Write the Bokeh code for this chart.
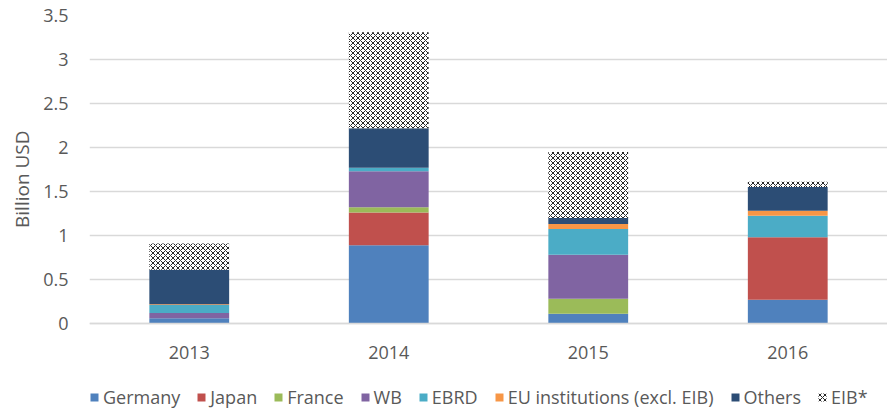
from bokeh.plotting import figure
from bokeh.models import ColumnDataSource, FixedTicker, Legend, LegendItem, FactorRange, Range1d, Title
from bokeh.transform import stack
from bokeh.embed import file_html
from bokeh.resources import INLINE

years = ["2013", "2014", "2015", "2016"]
germany = [0.06, 0.89, 0.11, 0.27]
japan = [0.0, 0.37, 0.0, 0.71]
france = [0.0, 0.06, 0.17, 0.0]
wb = [0.06, 0.41, 0.50, 0.0]
ebrd = [0.09, 0.04, 0.295, 0.245]
eu = [0.01, 0.0, 0.055, 0.055]
others = [0.39, 0.45, 0.07, 0.27]
eib = [0.30, 1.09, 0.75, 0.06]

series_keys = ["germany", "japan", "france", "wb", "ebrd", "eu", "others"]
series_names = ["Germany", "Japan", "France", "WB", "EBRD", "EU institutions (excl. EIB)", "Others", "EIB*"]
colors = ["#4F81BD", "#C0504D", "#9BBB59", "#8064A2", "#4BACC6", "#F79646", "#2C4D75"]

y_ticks = [0, 0.5, 1, 1.5, 2, 2.5, 3, 3.5]
y_tick_labels = ["0", "0.5", "1", "1.5", "2", "2.5", "3", "3.5"]
y_max = 3.5

src = ColumnDataSource(dict(year=years, germany=germany, japan=japan, france=france, wb=wb,
                            ebrd=ebrd, eu=eu, others=others, eib=eib))

FONT = "Open Sans"
TXT = "#595959"
W, H = 887, 409
TOP, LEFT = 15, 84
PX_PER_UNIT = 88.0
# frame runs to the bottom of the figure so the legend can sit inside it
y_min = -(H - TOP - y_max * PX_PER_UNIT) / PX_PER_UNIT

p = figure(x_range=FactorRange(*years), y_range=Range1d(y_min, y_max),
           width=W, height=H, output_backend="svg", toolbar_location=None,
           min_border_left=LEFT, min_border_right=0, min_border_top=TOP, min_border_bottom=0)

renderers = p.vbar_stack(series_keys, x="year", width=0.4, fill_color=colors,
                         line_color=None, source=src)
eib_r = p.vbar(x="year", bottom=stack(*series_keys), top=stack(*series_keys, "eib"),
               width=0.4, source=src, fill_color="white", line_color=None,
               hatch_pattern="diagonal_cross", hatch_color="black", hatch_scale=5,
               hatch_weight=1, hatch_alpha=0.85)

p.outline_line_color = None
p.xgrid.visible = False
p.ygrid.grid_line_color = "#D9D9D9"
p.ygrid.grid_line_width = 1.5

p.yaxis.ticker = FixedTicker(ticks=y_ticks)
p.yaxis.major_label_overrides = {float(t): l for t, l in zip(y_ticks, y_tick_labels)}
p.yaxis.axis_line_color = None
p.yaxis.major_tick_line_color = None
p.yaxis.minor_tick_line_color = None
p.yaxis.major_label_standoff = 15

ylabel = Title(text="Billion  USD", align="right", offset=110, standoff=12,
               text_font=FONT, text_font_size="19px", text_font_style="normal",
               text_color=TXT)
p.add_layout(ylabel, "left")

p.xaxis.fixed_location = 0
p.xaxis.axis_line_color = "#D9D9D9"
p.xaxis.axis_line_width = 1.5
p.xaxis.major_tick_line_color = None
p.xaxis.minor_tick_line_color = None
p.xaxis.major_label_standoff = 16

for ax in (p.xaxis, p.yaxis):
    ax.major_label_text_font = FONT
    ax.major_label_text_font_size = "18px"
    ax.major_label_text_color = TXT

all_r = list(renderers) + [eib_r]
items = [LegendItem(label=n, renderers=[r]) for n, r in zip(series_names, all_r)]

legend = Legend(items=items, orientation="horizontal", location=(0, 0),
                glyph_width=10, glyph_height=10, label_standoff=4, spacing=16,
                padding=0, margin=0, label_height=14,
                label_text_font=FONT, label_text_font_size="18px", label_text_color=TXT,
                border_line_color=None, background_fill_alpha=0)
p.add_layout(legend)

open("out.html", "w").write(file_html(p, INLINE))
